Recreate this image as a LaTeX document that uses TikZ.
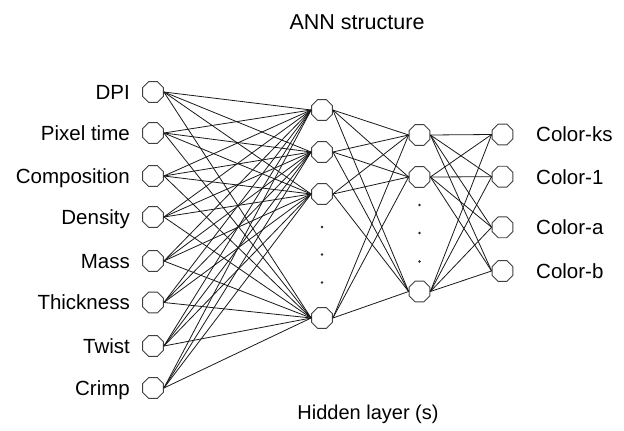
\documentclass[tikz,border=0pt]{standalone}
\usepackage{fontspec}
\setmainfont{Liberation Sans}
\usetikzlibrary{shapes.geometric}
\begin{document}
\begin{tikzpicture}[x=1pt,y=-1pt,
  neuron/.style={regular polygon,regular polygon sides=8,draw=black!75,line width=0.9pt,minimum size=22.6pt,inner sep=0pt,fill=white},
  link/.style={draw=black!90,line width=0.8pt},
  lbl/.style={font=\fontsize{20.5}{24}\selectfont,text height=14.7pt,text depth=0pt,inner sep=0pt},
  dotmark/.style={circle,fill=black!85,inner sep=0pt,minimum size=2.8pt}]
\useasboundingbox (0,0) rectangle (624,431);
% input layer
\foreach \i/\y/\t in {1/92/DPI,2/133/Pixel time,3/176/Composition,4/217/Density,5/261/Mass,6/302.5/Thickness,7/346/Twist,8/388/Crimp}{
  \node[neuron] (in\i) at (153,\y) {};
  \node[lbl,anchor=east] (lin\i) at (130,\y) {\t};
}
% hidden layer 1
\foreach \i/\y in {1/110,2/152,3/194,4/318}{\node[neuron] (ha\i) at (322,\y) {};}
% hidden layer 2
\foreach \i/\y in {1/135,2/177,3/291.5}{\node[neuron] (hb\i) at (419.5,\y) {};}
% output layer
\foreach \i/\y/\t in {1/134.5/Color-ks,2/176.7/Color-1,3/227.3/Color-a,4/271/Color-b}{
  \node[neuron] (out\i) at (502.5,\y) {};
  \node[lbl,anchor=west] (lout\i) at (536,\y) {\t};
}
% dots
\foreach \i/\y in {1/227,2/254.5,3/282.5}{\node[dotmark] (da\i) at (322,\y) {};}
\foreach \i/\y in {1/205,2/233,3/261.5}{\node[dotmark] (db\i) at (419.5,\y) {};}
% connectors
\foreach \i in {1,...,8}{\foreach \j in {1,...,4}{\draw[link] (in\i.east) -- (ha\j.west);}}
\foreach \i in {1,...,4}{\foreach \j in {1,...,3}{\draw[link] (ha\i.east) -- (hb\j.west);}}
\foreach \i in {1,...,3}{\foreach \j in {1,...,4}{\draw[link] (hb\i.east) -- (out\j.west);}}
% titles
\node[lbl,font=\fontsize{21.5}{25}\selectfont,text height=15.4pt] (title) at (357,21.5) {ANN structure};
\node[lbl,font=\fontsize{20}{24}\selectfont,text height=14.3pt] (hidden) at (368,412) {Hidden layer (s)};
\end{tikzpicture}
\end{document}
